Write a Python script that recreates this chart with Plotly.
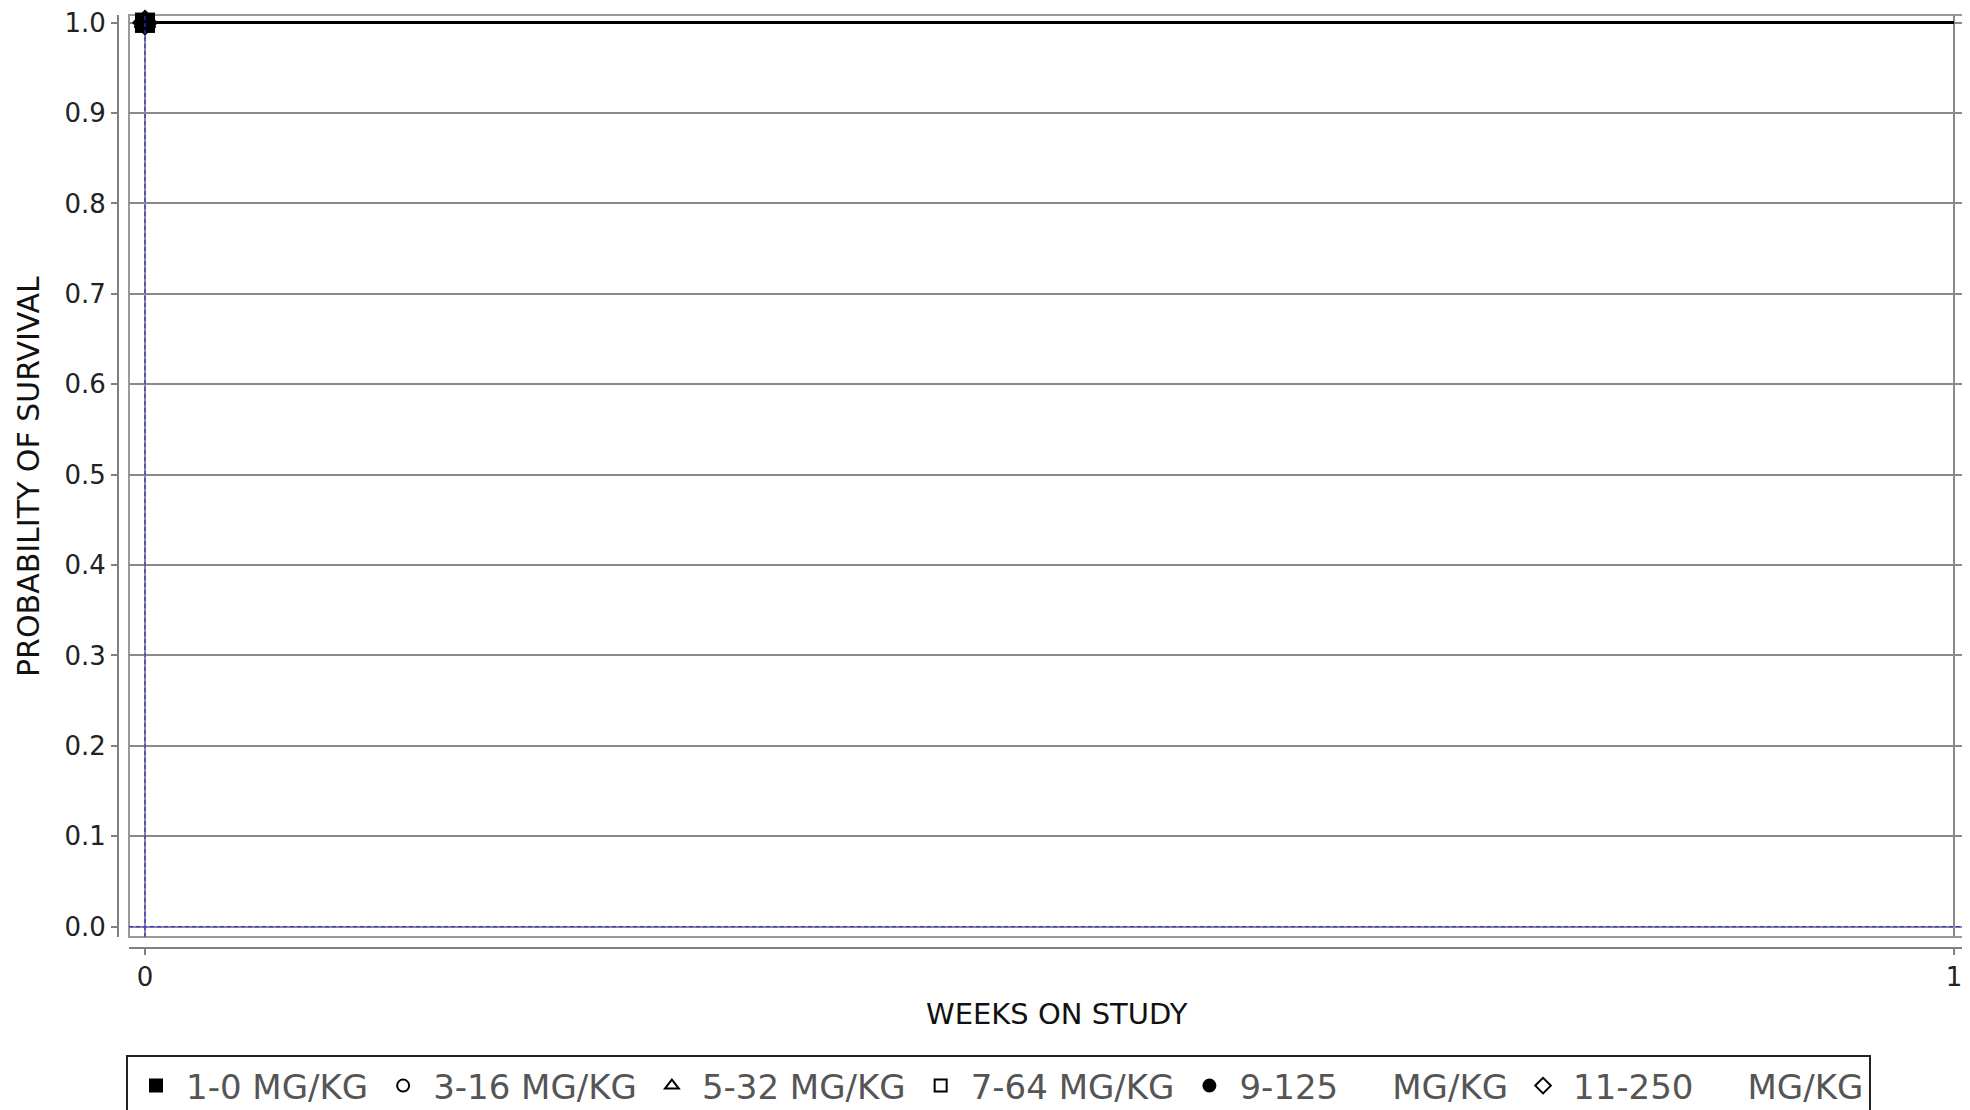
import plotly.graph_objects as go

# ---- data ----
groups = ["1-0 MG/KG", "3-16 MG/KG", "5-32 MG/KG", "7-64 MG/KG",
          "9-125\u00a0\u00a0\u00a0\u00a0\u00a0MG/KG", "11-250\u00a0\u00a0\u00a0\u00a0\u00a0MG/KG"]
symbols = ["square", "circle-open", "triangle-up-open", "square-open", "circle", "diamond-open"]
weeks = [0, 1]
survival = {
    groups[0]: [1.0, 1.0],
    groups[1]: [1.0, 1.0],
    groups[2]: [1.0, 1.0],
    groups[3]: [1.0, 1.0],
    groups[4]: [1.0, 1.0],
    groups[5]: [1.0, 1.0],
}
x_ticks = [0, 1]
y_ticks = [0.0, 0.1, 0.2, 0.3, 0.4, 0.5, 0.6, 0.7, 0.8, 0.9, 1.0]

W, H = 1970, 1110
OFF = 8  # page body margin
FONT = "DejaVu Sans"


def px(x):
    return (x - OFF) / W


def py(y):
    return (H - (y - OFF)) / H


fig = go.Figure()

# survival curves (lines)
for g in groups:
    fig.add_trace(go.Scatter(
        x=weeks, y=survival[g], mode="lines",
        line=dict(color="black", width=2.5, shape="hv"),
        showlegend=False, hoverinfo="skip", legendgroup=g,
    ))

# start markers (also produce legend entries)
for g, s in zip(groups, symbols):
    fig.add_trace(go.Scatter(
        x=weeks[:1], y=survival[g][:1], mode="markers", name=g,
        marker=dict(symbol=s, size=18, color="black",
                    line=dict(color="black", width=2)),
        legendgroup=g, cliponaxis=False,
    ))

fig.update_layout(
    template="none",
    width=W, height=H,
    margin=dict(l=0, r=0, t=0, b=0, autoexpand=False),
    paper_bgcolor="white", plot_bgcolor="white",
    font=dict(family=FONT, color="#222222"),
    xaxis=dict(
        domain=[px(129), px(1970)],
        range=[-0.00884, 1.00884],
        anchor="free", position=py(948),
        automargin=False, ticklabeloverflow="allow",
        showline=True, linecolor="#808080", linewidth=2,
        ticks="outside", ticklen=6, tickcolor="#808080", tickwidth=2,
        tickvals=x_ticks, ticktext=[str(v) for v in x_ticks],
        tickfont=dict(size=26, color="#222222"),
        showgrid=True, gridcolor="#8a8a8a", gridwidth=1.5,
        zeroline=False,
    ),
    yaxis=dict(
        domain=[py(937), py(15)],
        range=[-0.0114, 1.0085],
        anchor="free", position=px(118),
        automargin=False, ticklabeloverflow="allow",
        showline=True, linecolor="#808080", linewidth=2,
        ticks="outside", ticklen=6, tickcolor="#808080", tickwidth=2,
        tickvals=y_ticks, ticktext=[f"{v:.1f}" for v in y_ticks],
        tickfont=dict(size=26, color="#222222"),
        showgrid=True, gridcolor="#8a8a8a", gridwidth=1.5,
        zeroline=False,
    ),
    legend=dict(
        orientation="h",
        x=px(126), xanchor="left",
        y=py(1055), yanchor="top",
        bordercolor="#222222", borderwidth=2,
        bgcolor="white",
        font=dict(family=FONT, size=34, color="#555555"),
        itemwidth=50,
        itemsizing="constant",
        tracegroupgap=0,
    ),
    showlegend=True,
    shapes=[
        # plot frame
        dict(type="rect", xref="x domain", yref="y domain", x0=0, x1=1, y0=0, y1=1,
             line=dict(color="#9a9a9a", width=2), layer="below"),
        # crosshairs
        dict(type="line", xref="x", yref="y domain", x0=0, x1=0, y0=0, y1=1,
             line=dict(color="#3030ee", width=1.2, dash="4px,3px")),
        dict(type="line", xref="x domain", yref="y", x0=0, x1=1, y0=0, y1=0,
             line=dict(color="#3030ee", width=1.2, dash="4px,3px")),
    ],
    annotations=[
        dict(text="WEEKS ON STUDY", xref="paper", yref="paper",
             x=px(1057), y=py(1014), xanchor="center", yanchor="middle",
             showarrow=False, font=dict(family=FONT, size=29, color="#111111")),
        dict(text="PROBABILITY OF SURVIVAL", xref="paper", yref="paper",
             x=px(28), y=py(477), xanchor="center", yanchor="middle",
             textangle=-90, showarrow=False,
             font=dict(family=FONT, size=30, color="#111111")),
    ],
)

fig.write_html("out.html")
